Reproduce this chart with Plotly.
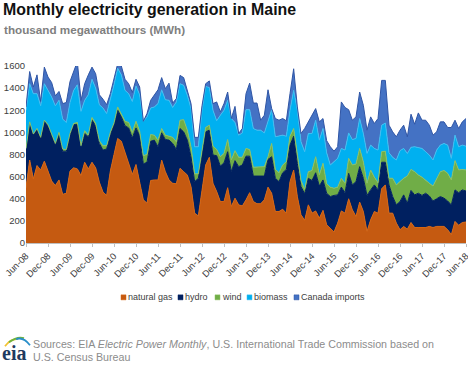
import numpy as np
import plotly.graph_objects as go

# Stack tops (thousand MWh), Jun-08 .. Jun-18
gas_top = [500,750,580,700,660,740,650,560,520,570,
440,450,650,680,670,610,730,670,730,680,
550,460,430,650,800,945,920,820,710,620,
710,560,390,360,565,570,570,750,645,570,
540,535,675,645,615,510,270,245,480,705,
775,540,465,375,375,500,330,405,345,335,
390,455,375,355,355,390,505,450,285,285,
305,270,555,660,420,255,205,345,270,290,
225,295,165,130,100,180,290,270,400,300,
240,370,285,105,210,285,270,490,525,270,
270,180,120,150,125,185,140,140,140,140,
150,140,150,150,150,120,75,195,160,185,190]
hydro_top = [850,1090,980,1030,950,1100,1060,970,890,990,
830,830,980,1070,1070,870,990,960,1110,1060,
900,840,850,980,1070,1200,1140,1060,1040,950,
1040,970,715,730,920,930,870,996,936,930,
900,846,1035,1005,930,780,555,585,780,1005,
1020,795,790,695,725,825,645,745,690,705,
785,785,605,605,600,605,755,780,585,555,
635,665,885,965,720,510,445,585,565,635,
515,570,450,420,430,435,505,455,630,525,
555,690,585,430,480,525,480,730,730,525,
420,345,375,435,360,475,435,450,430,450,
425,380,400,420,405,380,345,480,455,480,470]
wind_top = [855,1095,985,1035,955,1110,1070,980,900,1000,
850,845,990,1080,1090,880,1015,975,1135,1080,
925,880,880,1000,1085,1230,1160,1100,1090,1000,
1100,1010,790,800,980,975,930,1035,975,965,
955,915,1110,1115,1020,870,625,625,825,1045,
1065,875,845,780,810,935,750,835,775,775,
855,845,685,685,685,690,780,900,665,635,
705,735,965,1035,805,565,485,645,655,780,
615,720,535,505,495,505,585,540,765,705,
715,855,735,540,660,595,545,825,830,585,
585,525,555,585,605,665,645,615,595,565,
540,515,585,645,655,630,570,745,660,665,660]
biomass_top = [1200,1440,1350,1350,1240,1440,1380,1320,1240,1290,
1120,1090,1270,1380,1430,1190,1290,1340,1480,1400,
1250,1220,1170,1290,1430,1580,1520,1380,1350,1280,
1420,1340,1100,1140,1220,1230,1260,1385,1295,1290,
1225,1275,1440,1425,1335,1215,870,870,1200,1415,
1405,1200,1105,1155,1200,1290,1125,1090,975,995,
1205,1205,1035,1020,1020,995,1110,1205,960,965,
975,965,1200,1380,1200,915,825,990,990,1110,
930,1035,815,705,735,765,855,840,995,935,
945,1125,990,810,885,855,840,1065,1085,815,
775,750,835,855,810,865,870,865,855,825,
795,750,840,885,900,885,765,975,870,885,875]
canada_top = [1230,1550,1410,1520,1280,1590,1500,1450,1330,1370,
1260,1270,1460,1540,1640,1290,1440,1520,1590,1530,
1340,1300,1250,1350,1490,1620,1600,1480,1440,1360,
1480,1410,1100,1170,1290,1335,1385,1495,1395,1445,
1265,1305,1515,1495,1380,1260,955,955,1240,1440,
1465,1260,1275,1185,1260,1365,1125,1235,990,1035,
1350,1445,1265,1265,1110,1155,1385,1215,1125,1110,
1125,1105,1350,1575,1230,990,1035,1095,1145,1215,
1095,1125,925,870,830,870,1275,1225,1205,1110,
1140,1365,1245,1020,1140,1080,1125,1470,1470,1065,
1005,960,1020,1065,960,1164,1074,1176,1110,1110,
1065,975,1005,1095,1095,1044,1044,1110,1035,1095,1125]

tick_labels = ["Jun-08","Dec-08","Jun-09","Dec-09","Jun-10","Dec-10","Jun-11","Dec-11","Jun-12","Dec-12",
               "Jun-13","Dec-13","Jun-14","Dec-14","Jun-15","Dec-15","Jun-16","Dec-16","Jun-17","Dec-17","Jun-18"]
series_names = ["natural gas","hydro","wind","biomass","Canada imports"]
fills = ["#C55A11","#002060","#70AD47","#00B0F0","#4472C4"]
edges = ["#D9650F","#002060","#8CC063","#3FBFF2","#2F55A5"]

W, H = 468, 366
L, R, T, B = 26, 466, 66, 243.5
px = lambda v: (v - L) / (R - L)
py = lambda v: (B - v) / (B - T)

tops = np.array([gas_top, hydro_top, wind_top, biomass_top, canada_top], dtype=float)
values = np.diff(np.vstack([np.zeros(tops.shape[1]), tops]), axis=0)
if (values < 0).any():
    raise SystemExit(str(np.argwhere(values < 0).tolist()))
months = np.arange(tops.shape[1])

fig = go.Figure()
for name, vals, fc, ec in zip(series_names, values, fills, edges):
    fig.add_trace(go.Scatter(x=months, y=vals, name=name, mode="lines", stackgroup="one",
                             fillcolor=fc, line=dict(color=ec, width=1), showlegend=False))

shapes, annotations = [], []
# legend
legend_pos = [(121, 127), (178, 184), (215, 221), (247, 253), (294, 300)]
for (sq, tx), name, fc, ec in zip(legend_pos, series_names, fills, edges):
    shapes.append(dict(type="rect", xref="paper", yref="paper", x0=px(sq), x1=px(sq + 5),
                       y0=py(300.5), y1=py(295.5), fillcolor=fc, line=dict(color=ec, width=0.5)))
    annotations.append(dict(text=name, xref="paper", yref="paper", x=px(tx), y=py(298), xanchor="left",
                            yanchor="middle", showarrow=False, xshift=-1,
                            font=dict(size=9, color="#404040")))

def note(text, x, y, size, color, family="Liberation Sans"):
    annotations.append(dict(text=text, xref="paper", yref="paper", x=px(x), y=py(y), xanchor="left",
                            yanchor="middle", showarrow=False, align="left", xshift=-1,
                            font=dict(size=size, color=color, family=family)))

note("<b>Monthly electricity generation in Maine</b>", 2, 9, 15.9, "#111111")
note("<b>thousand megawatthours (MWh)</b>", 3, 29, 11.7, "#7F7F7F")
note("Sources: EIA <i>Electric Power Monthly</i>, U.S. International Trade Commission based on", 32, 345, 10.7, "#8C8C8C")
note("U.S. Census Bureau", 32, 358, 10.7, "#8C8C8C")
note("<b>eia</b>", 1, 354, 20, "#1F3A5F", "Liberation Serif")

def arc(x0, y0, xc, yc, x1, y1, color):
    path = f"M {px(x0)} {py(y0)} Q {px(xc)} {py(yc)} {px(x1)} {py(y1)}"
    shapes.append(dict(type="path", xref="paper", yref="paper", path=path, line=dict(color=color, width=1.8)))

arc(5, 347, 11, 339, 18, 340, "#F2C230")
arc(9, 343, 17, 337, 24, 339, "#6DB33F")
arc(16, 340, 23, 337, 30, 346, "#2A8FC9")

fig.update_layout(
    width=W, height=H, autosize=False, paper_bgcolor="white", plot_bgcolor="white",
    margin=dict(l=L, r=W - R, t=T, b=H - B, pad=0, autoexpand=False),
    font=dict(family="Liberation Sans", size=9.5, color="#404040"),
    showlegend=False, shapes=shapes, annotations=annotations,
    xaxis=dict(range=[0, 120], tickmode="array", tickvals=[int(m) for m in months[::6]], ticktext=tick_labels,
               tickangle=-45, ticks="outside", ticklen=3, tickcolor="#BFBFBF", showgrid=False,
               showline=True, linecolor="#BFBFBF", linewidth=1, zeroline=False,
               ticklabeloverflow="allow", tickfont=dict(size=9.3, color="#404040")),
    yaxis=dict(range=[0, 1600], tickmode="array", tickvals=list(range(0, 1601, 200)), showgrid=False,
               showline=False, zeroline=False, ticks="", ticklen=0,
               tickfont=dict(size=9.5, color="#404040")),
)
fig.write_html("out.html", config=dict(displayModeBar=False),
               post_script="document.body.style.margin='0';")
